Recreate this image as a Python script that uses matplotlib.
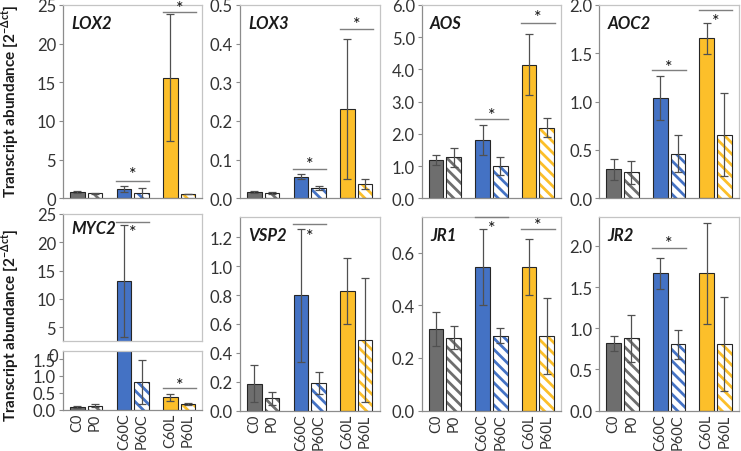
import matplotlib
matplotlib.use('Agg')
import matplotlib.pyplot as plt
import matplotlib.transforms as mtransforms
import numpy as np

plt.rcParams['font.family'] = ['Lato', 'DejaVu Sans']
plt.rcParams['hatch.linewidth'] = 2.0

# treatments, in plotting order
labels = ['C0', 'P0', 'C60C', 'P60C', 'C60L', 'P60L']

# mean transcript abundance and error per gene
lox2 = [0.85, 0.65, 1.2, 0.65, 15.6, 0.56]
lox2_err = [0.1, 0.06, 0.35, 0.7, 8.2, 0.06]
lox3 = [0.016, 0.013, 0.056, 0.027, 0.231, 0.037]
lox3_err = [0.003, 0.003, 0.006, 0.005, 0.18, 0.013]
aos = [1.18, 1.27, 1.81, 0.99, 4.15, 2.19]
aos_err = [0.16, 0.3, 0.47, 0.28, 0.95, 0.3]
aoc2 = [0.30, 0.27, 1.04, 0.46, 1.655, 0.66]
aoc2_err = [0.11, 0.12, 0.23, 0.19, 0.16, 0.43]
myc2 = [0.08, 0.12, 13.15, 0.82, 0.37, 0.18]
myc2_err = [0.03, 0.04, 9.9, 0.66, 0.1, 0.03]
vsp2 = [0.188, 0.085, 0.80, 0.19, 0.828, 0.49]
vsp2_err = [0.13, 0.045, 0.46, 0.077, 0.225, 0.43]
jr1 = [0.309, 0.277, 0.545, 0.284, 0.545, 0.284]
jr1_err = [0.065, 0.043, 0.145, 0.028, 0.105, 0.145]
jr2 = [0.816, 0.877, 1.665, 0.808, 1.665, 0.808]
jr2_err = [0.087, 0.29, 0.19, 0.177, 0.61, 0.57]

# significance marks: (pair index, line level, star level)
lox2_sig = [(1, 2.3, 3.1), (2, 24.1, 24.6)]
lox3_sig = [(1, 0.077, 0.09), (2, 0.438, 0.452)]
aos_sig = [(1, 2.46, 2.58), (2, 5.45, 5.62)]
aoc2_sig = [(1, 1.33, 1.36), (2, 1.95, 1.83)]
myc2_top_sig = [(1, 23.6, 21.8)]
myc2_low_sig = [(2, 0.63, 0.72)]
vsp2_sig = [(1, 1.29, 1.21)]
jr1_sig = [(1, 0.736, 0.695), (2, 0.69, 0.705)]
jr2_sig = [(1, 1.97, 2.04)]

colors = ['#6e6e6e', '#4472c4', '#fcbf2a']
edge = '#262626'

W, H = 741, 452
fig = plt.figure(figsize=(W / 100, H / 100), dpi=100)


def box(left, top, bottom, width=139.5):
    return [left / W, 1 - bottom / H, width / W, (bottom - top) / H]


xs = np.repeat(np.arange(3), 2) + np.tile([-0.19, 0.19], 3)
bw = 0.316


def panel(rect, vals, errs, ylim, ticks, fmt, title=None, sig=(), xlabels=False):
    ax = fig.add_axes(rect)
    for i, (m, e) in enumerate(zip(vals, errs)):
        c = colors[i // 2]
        if i % 2 == 0:
            ax.bar(xs[i], m, bw, color=c, edgecolor=edge, linewidth=0.8, zorder=2)
        else:
            ax.bar(xs[i], m, bw, color='white', edgecolor=c, hatch='\\\\\\', linewidth=0, zorder=2)
            ax.bar(xs[i], m, bw, fill=False, edgecolor=edge, linewidth=0.8, zorder=2)
    ax.errorbar(xs, vals, yerr=errs, fmt='none', ecolor='#505050', elinewidth=0.9,
                capsize=2.8, capthick=0.9, zorder=3)
    for g, ly, sy in sig:
        ax.plot([g - 0.36, g + 0.36], [ly, ly], color='#7f7f7f', lw=1, clip_on=False, zorder=4)
        ax.text(g, sy, '*', ha='center', va='center', fontsize=13, color='#101010', clip_on=False)
    ax.set_xlim(-0.5, 2.5)
    ax.set_ylim(*ylim)
    ax.set_yticks(ticks)
    ax.set_yticklabels([fmt.format(t) for t in ticks])
    ax.tick_params(axis='y', length=3, width=0.8, color='#8c8c8c', labelsize=12,
                   labelcolor='#333333', pad=2)
    if xlabels:
        ax.set_xticks(xs)
        ax.set_xticklabels(labels, rotation=90, fontsize=10.5, color='#333333')
        ax.tick_params(axis='x', length=0, pad=2)
    else:
        ax.set_xticks([])
    for s in ['top', 'right']:
        ax.spines[s].set_color('#c4c4c4')
    for s in ['left', 'bottom']:
        ax.spines[s].set_color('#8c8c8c')
    for s in ax.spines.values():
        s.set_linewidth(0.9)
    if title:
        ax.text(0.06, 0.95, title, transform=ax.transAxes, ha='left', va='top',
                fontsize=12, fontweight='bold', fontstyle='italic', color='#1a1a1a')
    return ax


top, bot = 6, 199.3
panel(box(63, top, bot), lox2, lox2_err, (0, 25), [0, 5, 10, 15, 20, 25], '{:g}', 'LOX2', lox2_sig)
panel(box(240, top, bot), lox3, lox3_err, (0, 0.5), np.arange(0, 0.51, 0.1), '{:.1f}', 'LOX3', lox3_sig)
panel(box(421.7, top, bot), aos, aos_err, (0, 6), np.arange(0, 6.1, 1), '{:.1f}', 'AOS', aos_sig)
panel(box(599.3, top, bot), aoc2, aoc2_err, (0, 2), np.arange(0, 2.01, 0.5), '{:.1f}', 'AOC2', aoc2_sig)

# MYC2 with broken axis
axm = panel(box(63, 215, 341.7), myc2, myc2_err, (2.64, 25), [5, 10, 15, 20, 25], '{:g}', 'MYC2', myc2_top_sig)
axm.spines['bottom'].set_color('#c4c4c4')
tr = mtransforms.blended_transform_factory(axm.transAxes, axm.transData)
axm.text(-0.035, 0, '0', transform=tr, ha='right', va='center', fontsize=12, color='#333333', clip_on=False)
panel(box(63, 351.7, 410.7), myc2, myc2_err, (0, 1.75), [0, 0.5, 1.0, 1.5], '{:.1f}', None, myc2_low_sig, True)

rtop, rbot = 218, 411.7
panel(box(240, rtop, rbot), vsp2, vsp2_err, (0, 1.34), np.arange(0, 1.21, 0.2), '{:.1f}', 'VSP2', vsp2_sig, True)
panel(box(421.7, rtop, rbot), jr1, jr1_err, (0, 0.735), [0, 0.2, 0.4, 0.6], '{:.1f}', 'JR1', jr1_sig, True)
panel(box(599.3, rtop, rbot), jr2, jr2_err, (0, 2.35), np.arange(0, 2.01, 0.5), '{:.1f}', 'JR2', jr2_sig, True)

ylab = r'Transcript abundance [2$^{\mathregular{-\Delta ct}}$]'
fig.text(10 / W, 1 - 101 / H, ylab, rotation=90, ha='center', va='center', fontsize=11, fontweight='bold', color='#1a1a1a')
fig.text(10 / W, 1 - 325 / H, ylab, rotation=90, ha='center', va='center', fontsize=11, fontweight='bold', color='#1a1a1a')

fig.savefig('out.png', dpi=100)
